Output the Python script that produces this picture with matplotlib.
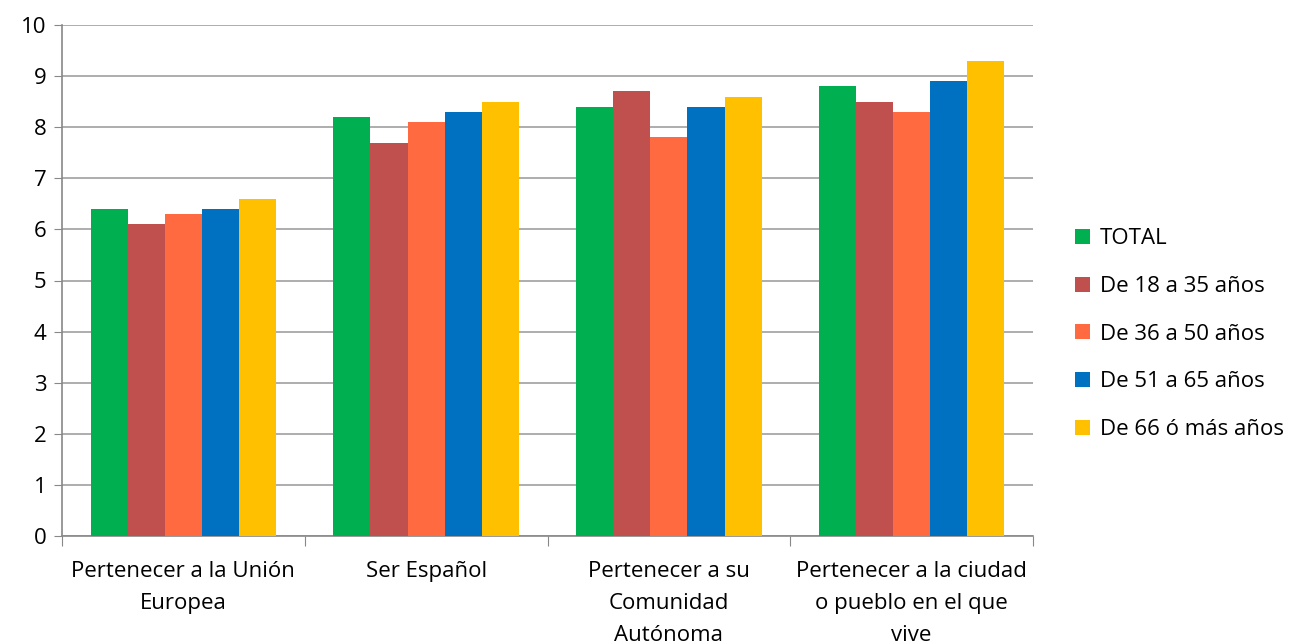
import numpy as np
import matplotlib as mpl
mpl.use('Agg')
import matplotlib.pyplot as plt

plt.rcParams['font.family'] = ['Open Sans', 'DejaVu Sans']

categories = ['Pertenecer a la Unión\nEuropea', 'Ser Español',
              'Pertenecer a su\nComunidad\nAutónoma',
              'Pertenecer a la ciudad\no pueblo en el que\nvive']
series_names = ['TOTAL', 'De 18 a 35 años', 'De 36 a 50 años',
                'De 51 a 65 años', 'De 66 ó más años']
total = [6.4, 8.2, 8.4, 8.8]
age_18_35 = [6.1, 7.7, 8.7, 8.5]
age_36_50 = [6.3, 8.1, 7.8, 8.3]
age_51_65 = [6.4, 8.3, 8.4, 8.9]
age_66 = [6.6, 8.5, 8.6, 9.3]
colors = ['#00B050', '#C0504D', '#FF6A40', '#0070C0', '#FFC000']

series = [total, age_18_35, age_36_50, age_51_65, age_66]

fig = plt.figure(figsize=(12.98, 6.44), dpi=100)
ax = fig.add_axes([62 / 1298, 108 / 644, (1033 - 62) / 1298, (536 - 25) / 644])

x = np.arange(len(categories))
w = 0.153
for i, (vals, name, c) in enumerate(zip(series, series_names, colors)):
    ax.bar(x + (i - 2) * w, vals, w, color=c, label=name, zorder=3)

ax.set_xlim(-0.5, len(categories) - 0.5)
ax.set_ylim(0, 10)
ax.set_yticks(range(0, 11))
ax.yaxis.grid(True, color='#A0A0A0', linewidth=1.2, zorder=0)
ax.set_axisbelow(True)

# category ticks at group boundaries, labels centred
ax.set_xticks(np.arange(-0.5, len(categories)), minor=False)
ax.set_xticklabels([])
ax.set_xticks(x, minor=True)
ax.set_xticklabels(categories, minor=True, fontsize=16, linespacing=1.68,
                   va='top')
ax.tick_params(axis='x', which='minor', length=0, pad=18)
ax.tick_params(axis='x', which='major', length=7, color='#888888')
ax.tick_params(axis='y', length=6, color='#888888', labelsize=16, pad=5)

for s in ['top', 'right']:
    ax.spines[s].set_visible(False)
for s in ['left', 'bottom']:
    ax.spines[s].set_color('#888888')
    ax.spines[s].set_linewidth(1.2)

ax.legend(loc='center left', bbox_to_anchor=(1.023, 0.395), frameon=False,
          fontsize=16, handlelength=0.65, handleheight=0.65,
          handletextpad=0.45, labelspacing=1.2)

fig.savefig('out.png', dpi=100)
